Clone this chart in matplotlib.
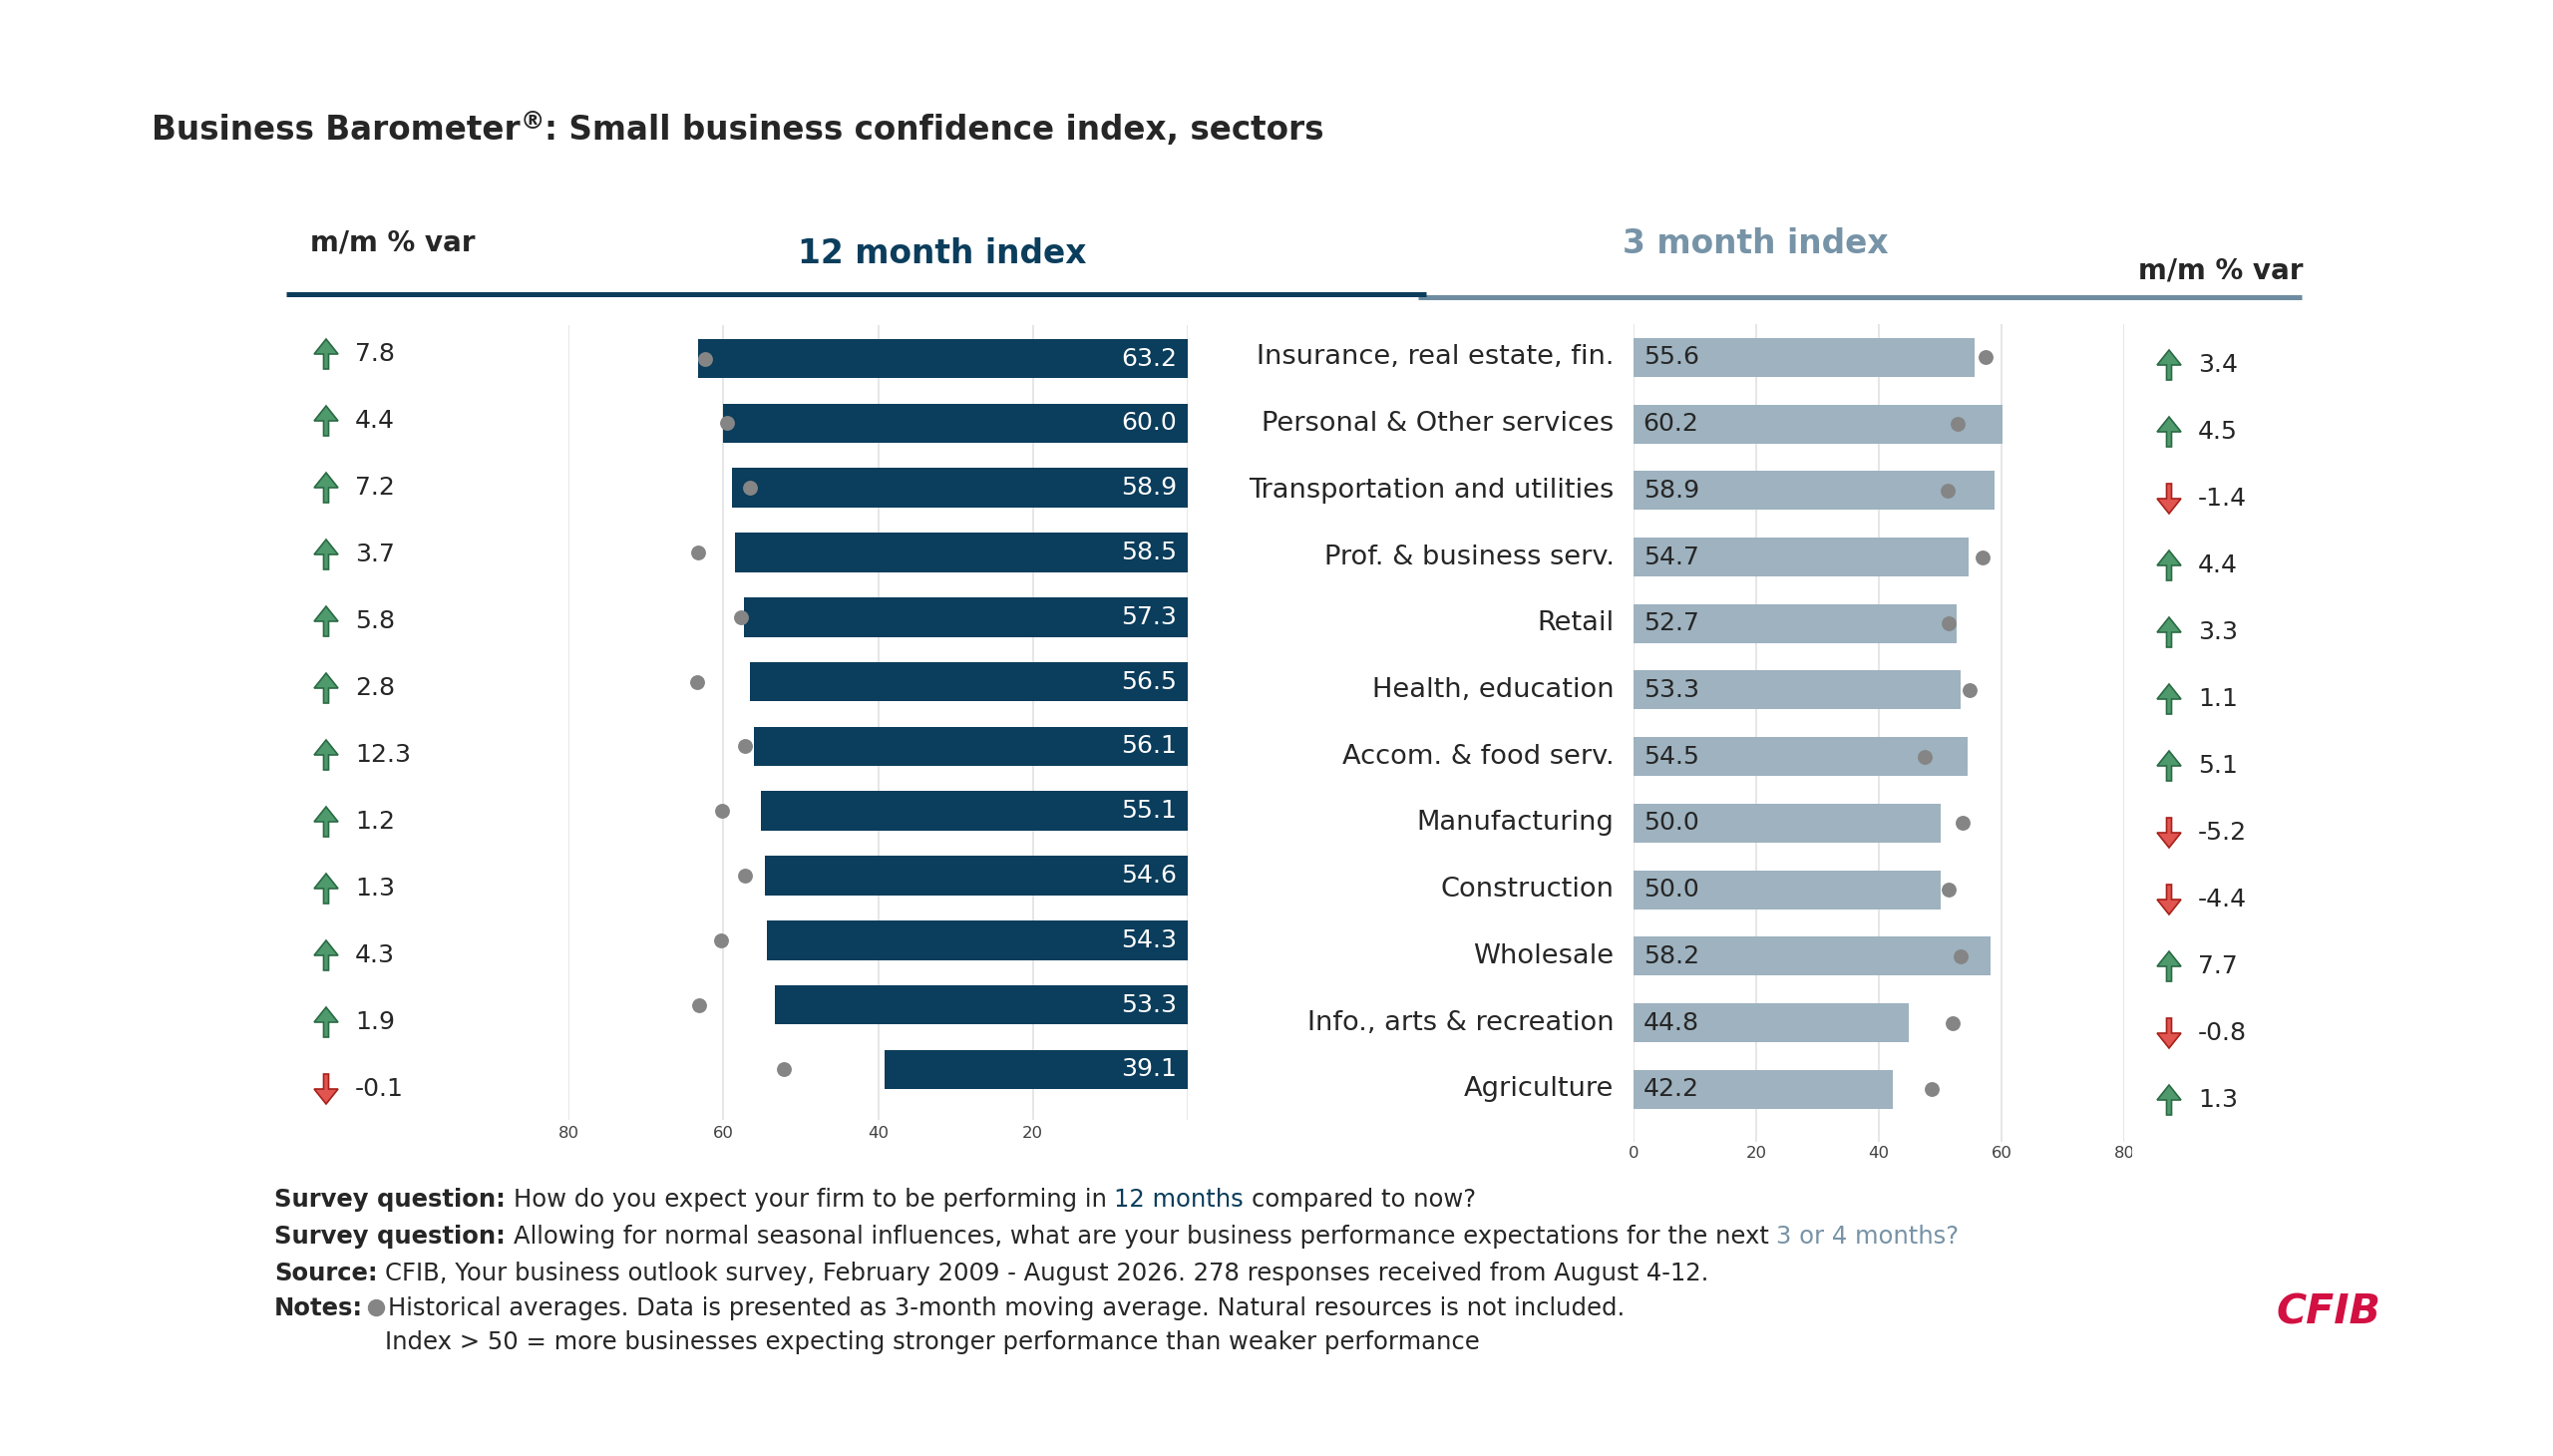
import matplotlib
matplotlib.use("Agg")
import matplotlib.pyplot as plt
from matplotlib.patches import FancyArrow
from matplotlib.transforms import Bbox, IdentityTransform, TransformedBbox
import numpy as np

plt.rcParams['font.family'] = ['DejaVu Sans']

# ---------------- data ----------------
sectors = ["Insurance, real estate, fin.", "Personal & Other services",
           "Transportation and utilities", "Prof. & business serv.", "Retail",
           "Health, education", "Accom. & food serv.", "Manufacturing",
           "Construction", "Wholesale", "Info., arts & recreation", "Agriculture"]
idx12 = [63.2, 60.0, 58.9, 58.5, 57.3, 56.5, 56.1, 55.1, 54.6, 54.3, 53.3, 39.1]
hist12 = [62.3, 59.5, 56.6, 63.3, 57.7, 63.4, 57.2, 60.1, 57.2, 60.3, 63.1, 52.2]
var12 = [7.8, 4.4, 7.2, 3.7, 5.8, 2.8, 12.3, 1.2, 1.3, 4.3, 1.9, -0.1]
idx3 = [55.6, 60.2, 58.9, 54.7, 52.7, 53.3, 54.5, 50.0, 50.0, 58.2, 44.8, 42.2]
hist3 = [57.4, 52.9, 51.2, 56.9, 51.4, 54.8, 47.5, 53.7, 51.4, 53.4, 52.0, 48.6]
var3 = [3.4, 4.5, -1.4, 4.4, 3.3, 1.1, 5.1, -5.2, -4.4, 7.7, -0.8, 1.3]
ticks12 = [80, 60, 40, 20, 0]
ticklabels12 = ["80", "60", "40", "20", ""]
ticks3 = [0, 20, 40, 60, 80]
ticklabels3 = ["0", "20", "40", "60", "80"]

# ---------------- style ----------------
NAVY = '#0B3D5C'
LIGHT = '#9EB2BF'
HEAD3 = '#7793A7'
LINE2 = '#6E8CA1'
TEXT = '#262626'
DOT = '#858585'
GRID = '#E4E4E4'
GFILL, GEDGE = '#4E9A6C', '#2A6A44'
RFILL, REDGE = '#E0554F', '#A8201A'

W, H = 2560, 1460
fig = plt.figure(figsize=(25.6, 14.6), dpi=100)
fig.patch.set_facecolor('white')
ov = fig.add_axes([0, 0, 1, 1], zorder=5)
ov.set_xlim(0, W)
ov.set_ylim(H, 0)
ov.axis('off')
ov.patch.set_alpha(0)
R = fig.canvas.get_renderer()


def width_of(text, fs, weight='normal', style='normal'):
    t = ov.text(0, 0, text, fontsize=fs, fontweight=weight, fontstyle=style)
    w = t.get_window_extent(renderer=R).width
    t.remove()
    return w


def fit(text, target, weight='normal', style='normal'):
    return 20 * target / width_of(text, 20, weight, style)


def seg_line(x, y, segs, fs, draw=True):
    """segs: (text, weight, color, size_factor, dy_px, kind)"""
    sp = width_of("a a", fs) - width_of("aa", fs)
    for s, w, c, sf, dy, kind in segs:
        if kind == 'dot':
            if draw:
                ov.plot([x + 13], [y - 8], 'o', ms=11.5, color=DOT)
            x += 25
            continue
        lead = len(s) - len(s.lstrip(' '))
        trail = len(s) - len(s.rstrip(' '))
        x += lead * sp
        core = s.strip(' ')
        t = ov.text(x, y + dy, core, fontsize=fs * sf, fontweight=w, color=c,
                    ha='left', va='baseline')
        bb = t.get_window_extent(renderer=R)
        x = bb.x1
        if not draw:
            t.remove()
        x += trail * sp
    return x


def fit_line(x, y, segs, target, fs0=20):
    end = seg_line(x, y, segs, fs0, draw=False)
    return fs0 * target / (end - x)


def px_axes(x0, x1, y0, y1):
    return fig.add_axes([x0 / W, 1 - y1 / H, (x1 - x0) / W, (y1 - y0) / H])


# ---------------- title ----------------
title_segs = [("Business Barometer", 'bold', TEXT, 1.0, 0, 't'),
              ("®", 'bold', TEXT, 0.75, -11, 't'),
              (": Small business confidence index, sectors", 'bold', TEXT, 1.0, 0, 't')]
fs_title = fit_line(152, 140, title_segs, 1176)
seg_line(152, 140, title_segs, fs_title)

# ---------------- headers ----------------
fs_mm = fit("m/m % var", 165, 'bold')
ov.text(311, 243, "m/m % var", fontsize=fs_mm, fontweight='bold', color=TEXT,
        ha='left', va='center')
ov.text(2309, 271, "m/m % var", fontsize=fs_mm, fontweight='bold', color=TEXT,
        ha='right', va='center')
fs_h = fit("12 month index", 290, 'bold')
ov.text(945, 255, "12 month index", fontsize=fs_h, fontweight='bold', color=NAVY,
        ha='center', va='center')
ov.text(1760, 244, "3 month index", fontsize=fs_h, fontweight='bold', color=HEAD3,
        ha='center', va='center')
ov.plot([1422, 2308], [298, 298], color=LINE2, lw=3.6, solid_capstyle='butt')
ov.plot([287, 1430], [295, 295], color=NAVY, lw=3.6, solid_capstyle='butt')

# ---------------- font sizes ----------------
fs_val = fit("63.2", 56)
fs_cat = fit("Insurance, real estate, fin.", 358)
fs_mmv = fit("12.3", 56)
fs_tick = fit("80", 21)

rows = np.arange(len(sectors))

# ---------------- left (12 month) ----------------
axL = px_axes(570, 1191, 326, 1123)
axL.barh(rows, idx12, height=0.61, color=NAVY, zorder=2)
axL.scatter(hist12, rows, s=115, color=DOT, zorder=3, linewidths=0)
axL.set_xlim(80, 0)
axL.set_ylim(11.78, -0.517)
axL.set_xticks(ticks12)
axL.set_xticklabels(ticklabels12)
axL.set_yticks([])
axL.grid(axis='x', color=GRID, lw=1.3, zorder=0)
axL.tick_params(axis='x', length=0, pad=4, labelsize=fs_tick, labelcolor='#404040')
for s in axL.spines.values():
    s.set_visible(False)
axL.set_axisbelow(True)
for i, v in enumerate(idx12):
    axL.annotate(f"{v:.1f}", xy=(0, i), xytext=(-8, 0), textcoords='offset points',
                 ha='right', va='center', color='white', fontsize=fs_val, zorder=4)

# ---------------- right (3 month) ----------------
axR = px_axes(1638, 2130, 325, 1145)
axR.barh(rows, idx3, height=0.585, color=LIGHT, zorder=2)
axR.scatter(hist3, rows, s=115, color=DOT, zorder=3, linewidths=0)
axR.set_xlim(0, 80)
axR.set_ylim(11.79, -0.50)
axR.set_xticks(ticks3)
axR.set_xticklabels(ticklabels3)
axR.set_yticks([])
axR.grid(axis='x', color=GRID, lw=1.3, zorder=0)
axR.tick_params(axis='x', length=0, pad=3, labelsize=fs_tick, labelcolor='#404040')
for s in axR.spines.values():
    s.set_visible(False)
axR.set_axisbelow(True)
# the last tick label is cut off at the panel edge in the original
clip = TransformedBbox(Bbox([[0, 0], [2138, H]]), IdentityTransform())
for lab in axR.get_xticklabels():
    lab.set_clip_on(True)
    lab.set_clip_box(clip)
for i, v in enumerate(idx3):
    axR.annotate(f"{v:.1f}", xy=(0, i), xytext=(7, 0), textcoords='offset points',
                 ha='left', va='center', color=TEXT, fontsize=fs_val, zorder=4)
for i, name in enumerate(sectors):
    axR.annotate(name, xy=(0, i), xytext=(-14, 0), textcoords='offset points',
                 ha='right', va='center', color=TEXT, fontsize=fs_cat,
                 annotation_clip=False)


# ---------------- m/m variation columns ----------------
def arrow(x, y, up):
    if up:
        a = FancyArrow(x, y + 15, 0, -30, width=5, head_width=24, head_length=15,
                       length_includes_head=True, fc=GFILL, ec=GEDGE, lw=1.2)
    else:
        a = FancyArrow(x, y - 15, 0, 30, width=5, head_width=24, head_length=15,
                       length_includes_head=True, fc=RFILL, ec=REDGE, lw=1.2)
    ov.add_patch(a)


for i, v in enumerate(var12):
    y = 355 + 67.0 * i
    arrow(327, y, v >= 0)
    ov.text(356, y, f"{v:.1f}", fontsize=fs_mmv, color=TEXT, ha='left', va='center')
for i, v in enumerate(var3):
    y = 366 + 67.0 * i
    arrow(2175, y, v >= 0)
    ov.text(2204, y, f"{v:.1f}", fontsize=fs_mmv, color=TEXT, ha='left', va='center')

# ---------------- footnotes ----------------
N = 'normal'
B = 'bold'
foot = [
    (275, 1210, [("Survey question:", B, TEXT, 1, 0, 't'),
                 (" How do you expect your firm to be performing in ", N, TEXT, 1, 0, 't'),
                 ("12 months", N, NAVY, 1, 0, 't'),
                 (" compared to now?", N, TEXT, 1, 0, 't')]),
    (275, 1247, [("Survey question:", B, TEXT, 1, 0, 't'),
                 (" Allowing for normal seasonal influences, what are your business performance expectations for the next ", N, TEXT, 1, 0, 't'),
                 ("3 or 4 months?", N, HEAD3, 1, 0, 't')]),
    (275, 1284, [("Source:", B, TEXT, 1, 0, 't'),
                 (" CFIB, Your business outlook survey, February 2009 - August 2026. 278 responses received from August 4-12.", N, TEXT, 1, 0, 't')]),
    (275, 1319, [("Notes:", B, TEXT, 1, 0, 't'),
                 ("", N, TEXT, 1, 0, 'dot'),
                 ("Historical averages. Data is presented as 3-month moving average. Natural resources is not included.", N, TEXT, 1, 0, 't')]),
    (386, 1353, [("Index > 50 = more businesses expecting stronger performance than weaker performance", N, TEXT, 1, 0, 't')]),
]
fs_foot = fit_line(275, 1247, foot[1][2], 1685)
for x, y, segs in foot:
    seg_line(x, y, segs, fs_foot)

# ---------------- logo ----------------
fs_logo = fit("CFIB", 105, 'bold', 'italic')
ov.text(2283, 1328, "CFIB", fontsize=fs_logo, fontweight='bold', fontstyle='italic',
        color='#D21042', ha='left', va='baseline')

fig.savefig("out.png", dpi=100, facecolor='white')
